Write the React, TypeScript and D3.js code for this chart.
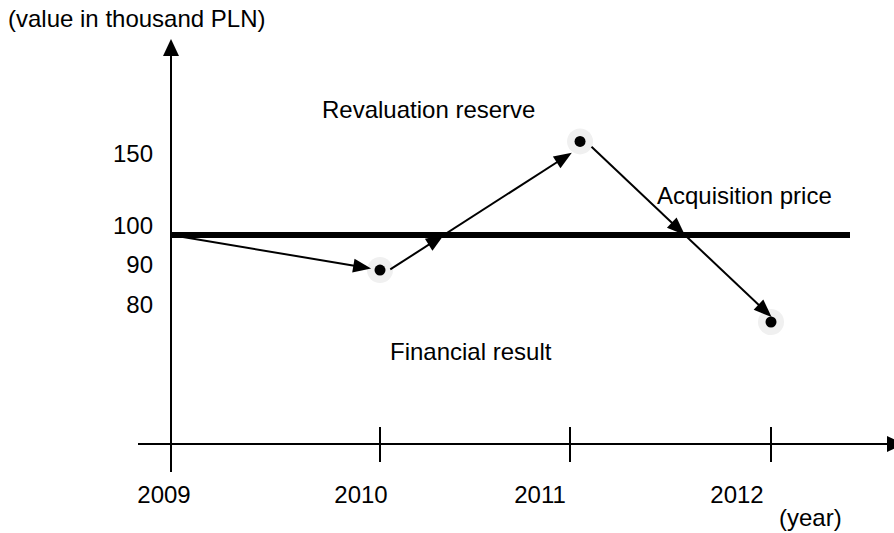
import React from "react";
import * as d3 from "d3";

// ---- data ----
const tickYears = [2009, 2010, 2011, 2012];
const tickYearLabels = ["2009", "2010", "2011", "2012"];
const pointYears = [2009, 2010, 2011.05, 2012];
const pointValues = [100, 91, 165, 78];
const yTickValues = [150, 100, 90, 80];
const yTickLabels = ["150", "100", "90", "80"];
const acquisitionPrice = 100;

// ---- layout ----
const W = 894;
const H = 533;
const axisX = 171;
const axisY = 444;
const FONT = "'Liberation Sans', Arial, sans-serif";
const FS = 24;
const yearLabelDx = [-7, -19, -30, -34];

const xScale = d3.scaleLinear().domain(tickYears).range([171, 380, 570, 771]);
const yScale = d3.scaleLinear().domain([80, 90, 100, 150]).range([314, 274, 235, 163]);

type Seg = { from: number; to: number; s0: number; s1: number; off: number; mid: boolean };
const segments: Seg[] = [
  { from: 0, to: 1, s0: 0, s1: 9, off: 0, mid: false },
  { from: 1, to: 2, s0: 9, s1: 13, off: 5, mid: true },
  { from: 2, to: 3, s0: 12, s1: 3, off: -4, mid: true },
];

function head(tx: number, ty: number, dx: number, dy: number, L = 18, Wd = 7) {
  const nx = -dy, ny = dx;
  const bx = tx - L * dx, by = ty - L * dy;
  return `M${tx},${ty}L${bx + Wd * nx},${by + Wd * ny}L${bx - Wd * nx},${by - Wd * ny}Z`;
}

export default function App() {
  const pts = pointYears.map((yr, i) => [xScale(yr), yScale(pointValues[i])] as [number, number]);
  const lineY = yScale(acquisitionPrice);

  const arrows = segments.map((sg, k) => {
    const [x0, y0] = pts[sg.from];
    const [x1, y1] = pts[sg.to];
    const len = Math.hypot(x1 - x0, y1 - y0);
    const dx = (x1 - x0) / len, dy = (y1 - y0) / len;
    const nx = -dy, ny = dx;
    const sx = x0 + sg.s0 * dx + sg.off * nx, sy = y0 + sg.s0 * dy + sg.off * ny;
    const ex = x1 - sg.s1 * dx + sg.off * nx, ey = y1 - sg.s1 * dy + sg.off * ny;
    const ux = (ex - sx), uy = (ey - sy);
    const ul = Math.hypot(ux, uy);
    const ddx = ux / ul, ddy = uy / ul;
    let midHead: string | null = null;
    if (sg.mid) {
      const t = (lineY - sy) / uy;
      const mx = sx + t * ux, my = sy + t * uy;
      midHead = head(mx, my, ddx, ddy);
    }
    return (
      <g key={k}>
        <line x1={sx} y1={sy} x2={ex - 8 * ddx} y2={ey - 8 * ddy} stroke="#000" strokeWidth={2} />
        <path d={head(ex, ey, ddx, ddy)} fill="#000" />
        {midHead && <path d={midHead} fill="#000" />}
      </g>
    );
  });

  return (
    <svg width={W} height={H} style={{ position: "absolute", left: 0, top: 0, background: "#fff" }}
      fontFamily={FONT} fontSize={FS}>
      <rect width={W} height={H} fill="#fff" />
      {/* halos and dots */}
      {pts.slice(1).map(([x, y], i) => (
        <circle key={"h" + i} cx={x} cy={y} r={13} fill="#f0f0f0" />
      ))}
      {pts.slice(1).map(([x, y], i) => (
        <circle key={"d" + i} cx={x} cy={y} r={5.5} fill="#000" />
      ))}
      {arrows}
      {/* acquisition price line */}
      <line x1={axisX} x2={850} y1={lineY} y2={lineY} stroke="#000" strokeWidth={6} />
      {/* axes */}
      <line x1={axisX} x2={axisX} y1={472} y2={52} stroke="#000" strokeWidth={2} />
      <path d={`M${axisX},39L${axisX - 8},56L${axisX + 8},56Z`} fill="#000" />
      <line x1={138} x2={890} y1={axisY} y2={axisY} stroke="#000" strokeWidth={2} />
      <path d={`M904,${axisY}L887,${axisY - 8}L887,${axisY + 8}Z`} fill="#000" />
      {tickYears.slice(1).map((yr) => (
        <line key={yr} x1={xScale(yr)} x2={xScale(yr)} y1={427} y2={462} stroke="#000" strokeWidth={2} />
      ))}
      {/* year labels */}
      {tickYears.map((yr, i) => (
        <text key={"yl" + yr} x={xScale(yr) + yearLabelDx[i]} y={503} textAnchor="middle">{tickYearLabels[i]}</text>
      ))}
      {/* y tick labels */}
      {yTickValues.map((v, i) => (
        <text key={"vt" + v} x={153} y={yScale(v) - 1} textAnchor="end">{yTickLabels[i]}</text>
      ))}
      {/* annotations */}
      <text x={8} y={27}>(value in thousand PLN)</text>
      <text x={779} y={526}>(year)</text>
      <text x={322} y={118}>Revaluation reserve</text>
      <text x={657} y={204}>Acquisition price</text>
      <text x={390} y={360}>Financial result</text>
    </svg>
  );
}
